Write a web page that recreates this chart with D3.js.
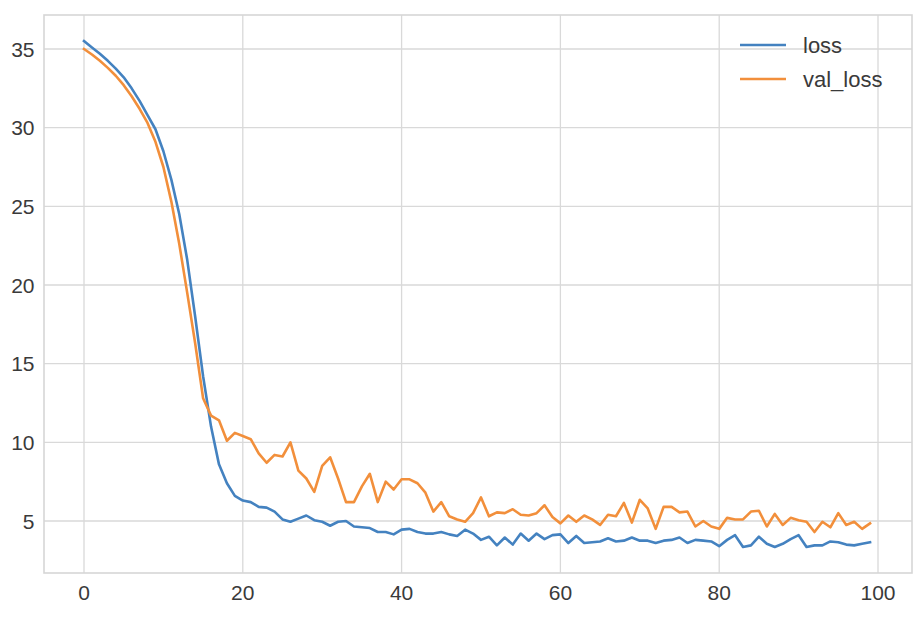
<!DOCTYPE html>
<html>
<head>
<meta charset="utf-8">
<script src="https://cdn.jsdelivr.net/npm/d3@7"></script>
<style>
  html, body { margin: 0; padding: 0; background: #fff; }
  svg { display: block; }
  text { font-family: "Liberation Sans", Arial, sans-serif; fill: #3a3a3a; }
</style>
</head>
<body>
<svg id="chart" width="924" height="626"></svg>
<script>
const epochs = d3.range(0, 100);
const loss = [35.5, 35.1, 34.7, 34.25, 33.75, 33.2, 32.5, 31.7, 30.8, 29.9,
  28.5, 26.7, 24.5, 21.6, 18.0, 14.2, 11.0, 8.6, 7.4, 6.6,
  6.3, 6.2, 5.9, 5.85, 5.6, 5.1, 4.95, 5.15, 5.35, 5.05,
  4.95, 4.7, 4.95, 5.0, 4.65, 4.6, 4.55, 4.3, 4.3, 4.15,
  4.45, 4.5, 4.3, 4.2, 4.2, 4.3, 4.15, 4.05, 4.45, 4.2,
  3.8, 4.0, 3.45, 3.95, 3.5, 4.2, 3.75, 4.2, 3.85, 4.1,
  4.15, 3.6, 4.05, 3.6, 3.65, 3.7, 3.9, 3.7, 3.75, 3.95,
  3.75, 3.75, 3.6, 3.75, 3.8, 3.95, 3.6, 3.8, 3.75, 3.7,
  3.4, 3.8, 4.1, 3.35, 3.45, 4.0, 3.55, 3.35, 3.55, 3.85,
  4.1, 3.35, 3.45, 3.45, 3.7, 3.65, 3.5, 3.45, 3.55, 3.65];
const valLoss = [35.0, 34.65, 34.25, 33.8, 33.3, 32.7, 32.0, 31.2, 30.3, 29.1,
  27.5, 25.3, 22.6, 19.5, 16.3, 12.8, 11.7, 11.4, 10.1, 10.6,
  10.4, 10.2, 9.3, 8.7, 9.2, 9.1, 10.0, 8.2, 7.7, 6.85,
  8.5, 9.05, 7.7, 6.2, 6.2, 7.2, 8.0, 6.2, 7.5, 7.0,
  7.65, 7.65, 7.4, 6.8, 5.6, 6.2, 5.3, 5.1, 4.95, 5.5,
  6.5, 5.3, 5.55, 5.5, 5.75, 5.4, 5.35, 5.5, 6.0, 5.25,
  4.85, 5.35, 4.95, 5.35, 5.1, 4.75, 5.4, 5.3, 6.15, 4.9,
  6.35, 5.8, 4.5, 5.9, 5.9, 5.55, 5.6, 4.65, 5.0, 4.65,
  4.5, 5.2, 5.1, 5.1, 5.6, 5.65, 4.65, 5.45, 4.75, 5.2,
  5.05, 4.95, 4.3, 4.95, 4.6, 5.5, 4.75, 4.95, 4.5, 4.85];
const xTicks = [0, 20, 40, 60, 80, 100];
const yTicks = [5, 10, 15, 20, 25, 30, 35];
const seriesNames = ["loss", "val_loss"];
const seriesColors = ["#4482c0", "#f28f3b"];

const svg = d3.select("#chart");
const frame = {left: 44, top: 15, right: 912, bottom: 573};
const x = d3.scaleLinear().domain([0, 100]).range([84, 878]);
const y = d3.scaleLinear().domain([5, 35]).range([521, 49]);

// grid
const g = svg.append("g");
g.selectAll("line.vg").data(xTicks).join("line")
  .attr("x1", d => x(d)).attr("x2", d => x(d))
  .attr("y1", frame.top).attr("y2", frame.bottom)
  .attr("stroke", "#d9d9d9").attr("stroke-width", 1.3);
g.selectAll("line.hg").data(yTicks).join("line")
  .attr("y1", d => y(d)).attr("y2", d => y(d))
  .attr("x1", frame.left).attr("x2", frame.right)
  .attr("stroke", "#d9d9d9").attr("stroke-width", 1.3);

// frame
svg.append("rect")
  .attr("x", frame.left).attr("y", frame.top)
  .attr("width", frame.right - frame.left).attr("height", frame.bottom - frame.top)
  .attr("fill", "none").attr("stroke", "#d6d6d6").attr("stroke-width", 1.6);

// tick labels
svg.selectAll("text.xt").data(xTicks).join("text")
  .attr("x", d => x(d)).attr("y", 599.5)
  .attr("text-anchor", "middle").attr("font-size", 21)
  .text(d => d);
svg.selectAll("text.yt").data(yTicks).join("text")
  .attr("x", 34.5).attr("y", d => y(d) + 7.5)
  .attr("text-anchor", "end").attr("font-size", 21)
  .text(d => d);

// lines
const line = d3.line().x((d, i) => x(epochs[i])).y(d => y(d));
[loss, valLoss].forEach((s, k) => {
  svg.append("path").datum(s)
    .attr("d", line)
    .attr("fill", "none")
    .attr("stroke", seriesColors[k])
    .attr("stroke-width", 2.6)
    .attr("stroke-linejoin", "round")
    .attr("stroke-linecap", "square");
});

// legend
const lg = svg.append("g");
seriesNames.forEach((name, k) => {
  const ly = 45 + k * 34;
  lg.append("line").attr("x1", 740).attr("x2", 786).attr("y1", ly).attr("y2", ly)
    .attr("stroke", seriesColors[k]).attr("stroke-width", 2.6);
  lg.append("text").attr("x", 803).attr("y", ly + 8)
    .attr("font-size", 22).text(name);
});
</script>
</body>
</html>
